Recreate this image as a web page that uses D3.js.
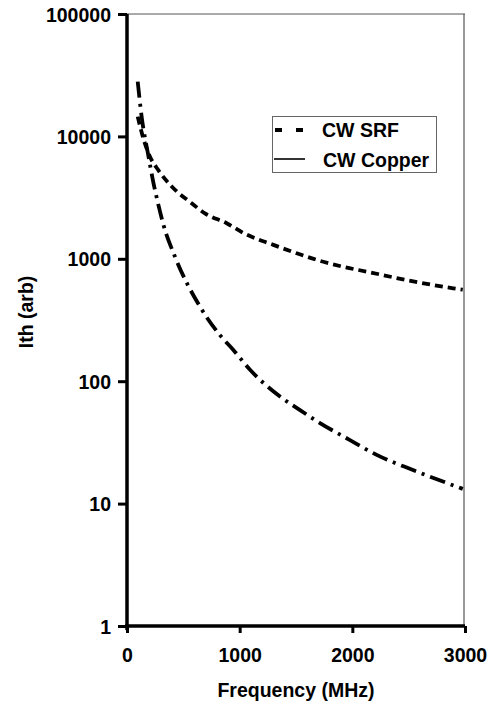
<!DOCTYPE html>
<html>
<head>
<meta charset="utf-8">
<script src="https://cdn.jsdelivr.net/npm/d3@7.9.0/dist/d3.min.js"></script>
<style>
  body { margin: 0; background: #fff; }
  svg { display: block; font-family: "Liberation Sans", Arial, sans-serif; font-weight: bold; }
</style>
</head>
<body>
<div id="chart"></div>
<script>
// values
const srfFreq = [95, 150, 204, 278, 397, 574, 692, 885, 1047, 1299, 1506, 1684, 1920, 2128, 2483, 2896, 2980];
const srfIth  = [14500, 9300, 6830, 5300, 3900, 2840, 2350, 1950, 1600, 1300, 1110, 980, 860, 785, 670, 574, 560];

const cuFreq = [95, 130, 189, 234, 273, 323, 426, 648, 825, 944, 1092, 1358, 1536, 1713, 1979, 2216, 2538, 2980];
const cuIth  = [28000, 14500, 7000, 4200, 2900, 1900, 1040, 406, 238, 180, 124, 75, 58, 45.5, 33, 25, 18.8, 13.2];

const xTicks = [0, 1000, 2000, 3000];
const yTicks = [1, 10, 100, 1000, 10000, 100000];
const legendLabels = ["CW SRF", "CW Copper"];

const width = 493, height = 704;
const plot = { left: 127, right: 465, top: 14, bottom: 626 };
const fontSize = "19.5px";

const svg = d3.select("#chart").append("svg")
    .attr("width", width)
    .attr("height", height);

const x = d3.scaleLinear().domain([0, 3000]).range([plot.left, plot.right]);
const y = d3.scaleLog().domain([1, 100000]).range([plot.bottom, plot.top]);

// thin frame on top and right
svg.append("line")
    .attr("x1", plot.left).attr("x2", plot.right)
    .attr("y1", plot.top).attr("y2", plot.top)
    .attr("stroke", "#555").attr("stroke-width", 1);
svg.append("line")
    .attr("x1", plot.right - 1).attr("x2", plot.right - 1)
    .attr("y1", plot.top).attr("y2", plot.bottom)
    .attr("stroke", "#555").attr("stroke-width", 1.2);

// axes
const yAxis = svg.append("g")
    .attr("transform", `translate(${plot.left},0)`)
    .call(d3.axisLeft(y).tickValues(yTicks).tickFormat(d3.format("d")).tickSize(9).tickPadding(7).tickSizeOuter(0));

const xAxis = svg.append("g")
    .attr("transform", `translate(0,${plot.bottom})`)
    .call(d3.axisBottom(x).tickValues(xTicks).tickFormat(d3.format("d")).tickSize(7).tickPadding(15).tickSizeOuter(0));

[xAxis, yAxis].forEach(g => {
    g.select(".domain").attr("stroke", "#000").attr("stroke-width", 3.5);
    g.selectAll(".tick line").attr("stroke", "#000").attr("stroke-width", 3);
    g.selectAll(".tick text")
        .attr("fill", "#000")
        .style("font-size", fontSize)
        .style("font-weight", "bold")
        .style("font-family", "'Liberation Sans', Arial, sans-serif");
});
yAxis.selectAll(".tick text").attr("dy", "0.36em");
// extend the left axis slightly past the bottom
yAxis.select(".domain").attr("d", `M0,${plot.top}V${plot.bottom + 4}`);
xAxis.select(".domain").attr("d", `M${plot.left - 2},0H${plot.right}`);

// axis titles
svg.append("text")
    .attr("x", (plot.left + plot.right) / 2)
    .attr("y", 697)
    .attr("text-anchor", "middle")
    .style("font-size", fontSize)
    .text("Frequency (MHz)");

svg.append("text")
    .attr("transform", `translate(33,312) rotate(-90)`)
    .attr("text-anchor", "middle")
    .style("font-size", fontSize)
    .text("Ith (arb)");

// curves
const line = d3.line()
    .x(d => x(d[0]))
    .y(d => y(d[1]))
    .curve(d3.curveMonotoneX);

const srfData = d3.zip(srfFreq, srfIth);
const cuData = d3.zip(cuFreq, cuIth);

svg.append("path")
    .datum(srfData)
    .attr("d", line)
    .attr("fill", "none")
    .attr("stroke", "#000")
    .attr("stroke-width", 3.8)
    .attr("stroke-dasharray", "8,5");

svg.append("path")
    .datum(cuData)
    .attr("d", line)
    .attr("fill", "none")
    .attr("stroke", "#000")
    .attr("stroke-width", 3.8)
    .attr("stroke-dasharray", "16,6,3,6");

// legend
const legend = svg.append("g");
legend.append("rect")
    .attr("x", 272.5).attr("y", 116.5)
    .attr("width", 164).attr("height", 56)
    .attr("fill", "#fff")
    .attr("stroke", "#666").attr("stroke-width", 1);

legend.append("line")
    .attr("x1", 275).attr("x2", 303)
    .attr("y1", 130).attr("y2", 130)
    .attr("stroke", "#000").attr("stroke-width", 3.8)
    .attr("stroke-dasharray", "7,14");
legend.append("line")
    .attr("x1", 274).attr("x2", 305)
    .attr("y1", 159).attr("y2", 159)
    .attr("stroke", "#333").attr("stroke-width", 2);

legend.selectAll("text.lab")
    .data(legendLabels)
    .join("text")
    .attr("class", "lab")
    .attr("x", (d, i) => i === 0 ? 322 : 323)
    .attr("y", (d, i) => 137 + i * 30)
    .style("font-size", fontSize)
    .text(d => d);
</script>
</body>
</html>
